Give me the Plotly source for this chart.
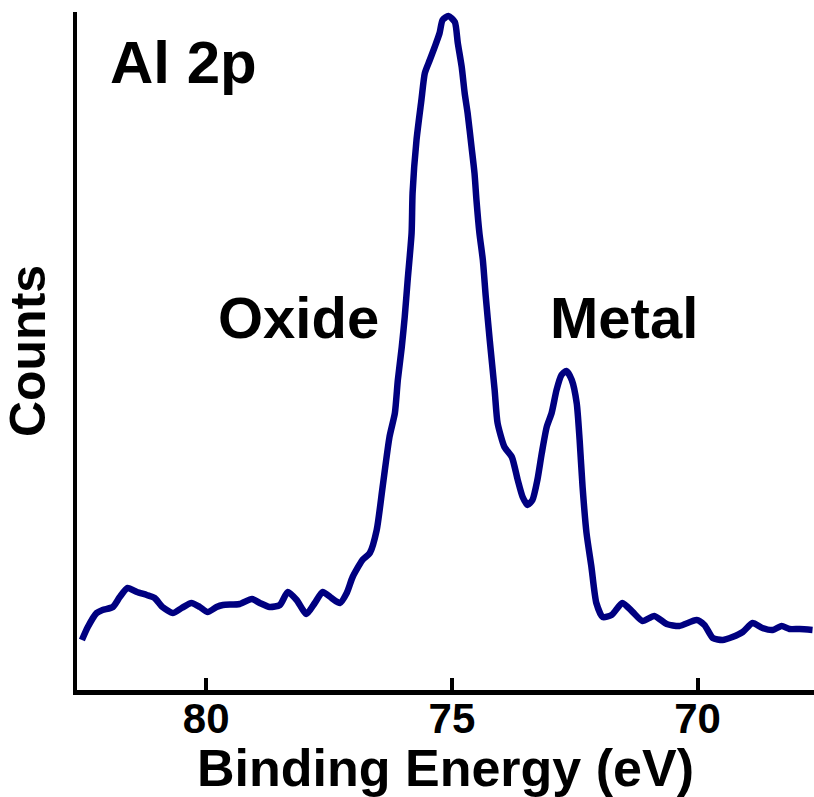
import plotly.graph_objects as go

# Al 2p XPS spectrum (binding energy in eV, counts in arbitrary units)
binding_energy = [
    82.53, 82.41, 82.23, 82.11, 81.90, 81.76, 81.60, 81.41, 81.21, 81.05,
    80.89, 80.68, 80.50, 80.30, 80.13, 79.97, 79.79, 79.66, 79.32, 79.07,
    78.91, 78.71, 78.50, 78.34, 78.16, 77.96, 77.79, 77.63, 77.45, 77.28,
    77.14, 77.02, 76.82, 76.67, 76.53, 76.41, 76.27, 76.16, 76.10, 76.02,
    75.96, 75.90, 75.82, 75.80, 75.72, 75.62, 75.55, 75.45, 75.35, 75.25,
    75.19, 75.07, 74.94, 74.88, 74.80, 74.74, 74.68, 74.60, 74.54, 74.50,
    74.44, 74.37, 74.31, 74.23, 74.13, 74.07, 73.93, 73.78, 73.66, 73.56,
    73.46, 73.36, 73.26, 73.17, 73.07, 72.97, 72.87, 72.77, 72.67, 72.56,
    72.46, 72.40, 72.34, 72.26, 72.16, 72.06, 71.93, 71.75, 71.53, 71.32,
    71.12, 70.88, 70.63, 70.37, 70.02, 69.86, 69.69, 69.49, 69.29, 69.08,
    68.88, 68.68, 68.47, 68.29, 68.13, 67.92, 67.66,
]
counts = [
    500, 630, 770, 800, 830, 930, 1020, 980, 950, 920,
    830, 770, 820, 870, 830, 780, 830, 850, 860, 910,
    870, 830, 850, 980, 900, 760, 870, 980, 920, 870,
    970, 1130, 1300, 1370, 1600, 2030, 2530, 2770, 3100, 3430,
    3730, 4100, 4570, 4970, 5500, 5900, 6170, 6300, 6430, 6570,
    6700, 6740, 6680, 6470, 6230, 5970, 5770, 5430, 5170, 4900,
    4570, 4300, 3930, 3500, 3000, 2670, 2430, 2330, 2100, 1930,
    1850, 1900, 2100, 2370, 2630, 2770, 3000, 3150, 3190, 3100,
    2870, 2500, 2030, 1570, 1230, 870, 730, 750, 870, 780,
    690, 740, 660, 640, 700, 650, 520, 500, 530, 580,
    670, 620, 600, 640, 610, 610, 600,
]

tick_values = [80, 75, 70]
tick_labels = ["80", "75", "70"]

FONT = "Liberation Sans, Arial, Helvetica, sans-serif"
NAVY = "#000080"

fig = go.Figure()
fig.add_trace(go.Scatter(
    x=binding_energy,
    y=counts,
    mode="lines",
    line=dict(color=NAVY, width=6.5, shape="spline", smoothing=0.6),
    hoverinfo="skip",
    showlegend=False,
))

fig.update_layout(
    width=814,
    height=797,
    margin=dict(l=77, r=0, t=12, b=107),
    paper_bgcolor="white",
    plot_bgcolor="white",
    font=dict(family=FONT, color="black"),
    xaxis=dict(
        range=[82.63, 67.63],
        tickvals=tick_values,
        ticktext=tick_labels,
        ticks="inside",
        ticklen=12,
        tickwidth=4,
        tickcolor="black",
        tickfont=dict(family=FONT, size=42, weight="bold"),
        ticklabelstandoff=-12,
        showline=True,
        linecolor="black",
        linewidth=5,
        showgrid=False,
        zeroline=False,
        title=dict(
            text="Binding Energy (eV)",
            font=dict(family=FONT, size=52, weight="bold"),
            standoff=0,
        ),
    ),
    yaxis=dict(
        range=[0, 6780],
        showticklabels=False,
        ticks="",
        showline=True,
        linecolor="black",
        linewidth=4,
        showgrid=False,
        zeroline=False,
        title=dict(
            text="Counts",
            font=dict(family=FONT, size=50, weight="bold"),
            standoff=14,
        ),
    ),
    annotations=[
        dict(text="Al 2p", xref="paper", yref="paper", x=0.042, y=0.926,
             xanchor="left", yanchor="middle", showarrow=False,
             font=dict(family=FONT, size=60, weight="bold")),
        dict(text="Oxide", xref="x", yref="y", x=78.12, y=3730,
             xanchor="center", yanchor="middle", showarrow=False,
             font=dict(family=FONT, size=58, weight="bold")),
        dict(text="Metal", xref="x", yref="y", x=71.49, y=3730,
             xanchor="center", yanchor="middle", showarrow=False,
             font=dict(family=FONT, size=58, weight="bold")),
    ],
)

fig.write_html("out.html")
